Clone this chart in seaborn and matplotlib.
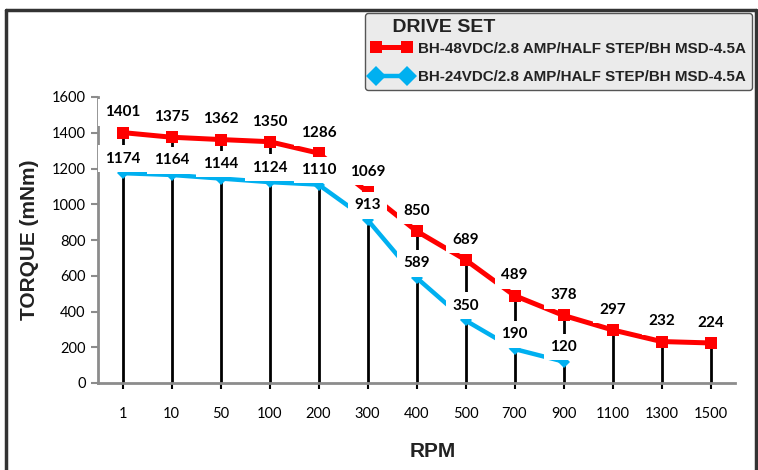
import matplotlib
matplotlib.use("Agg")
import matplotlib.pyplot as plt
from matplotlib.lines import Line2D
import numpy as np
import pandas as pd
import seaborn as sns

# ──────────────────────────────────────────────
# Data
# ──────────────────────────────────────────────
rpm_labels = ["1", "10", "50", "100", "200", "300", "400", "500",
              "700", "900", "1100", "1300", "1500"]
torque_48v = [1401, 1375, 1362, 1350, 1286, 1069, 850, 689, 489, 378, 297, 232, 224]
torque_24v = [1174, 1164, 1144, 1124, 1110, 913, 589, 350, 190, 120]

name_48v = "BH-48VDC/2.8 AMP/HALF STEP/BH MSD-4.5A"
name_24v = "BH-24VDC/2.8 AMP/HALF STEP/BH MSD-4.5A"
y_ticks = [0, 200, 400, 600, 800, 1000, 1200, 1400, 1600]

RED = "#ff0000"
BLUE = "#00b0f0"
GRAY = "#8c8c8c"

df48 = pd.DataFrame({"pos": np.arange(len(torque_48v)), "torque": torque_48v})
df24 = pd.DataFrame({"pos": np.arange(len(torque_24v)), "torque": torque_24v})

sns.set_theme(style="white")
plt.rcParams["font.family"] = ["Lato", "DejaVu Sans"]
plt.rcParams["text.color"] = "black"

fig = plt.figure(figsize=(7.58, 4.70), dpi=100)
ax = fig.add_axes([98 / 758, 1 - 383 / 470, (735 - 98) / 758, (383 - 97) / 470])

# drop lines from the axis up to the 48 V curve
ax.vlines(df48["pos"], 0, df48["torque"], color="black", lw=2, zorder=1)

sns.lineplot(data=df48, x="pos", y="torque", color=RED, lw=3.6, marker="s",
             markersize=9, markeredgewidth=0, ax=ax, zorder=3)
sns.lineplot(data=df24, x="pos", y="torque", color=BLUE, lw=3.2, marker="D",
             markersize=6, markeredgewidth=0, ax=ax, zorder=2)

label_style = dict(ha="center", va="center", fontsize=11, fontweight="bold",
                   color="black", textcoords="offset points", zorder=6,
                   bbox=dict(boxstyle="square,pad=0.42", fc="white", ec="none"))
for x, v in zip(df48["pos"], df48["torque"]):
    ax.annotate(str(v), (x, v), xytext=(0, 14.5), **label_style)
for x, v in zip(df24["pos"], df24["torque"]):
    ax.annotate(str(v), (x, v), xytext=(0, 10.5), **label_style)

ax.set_xlim(-0.5, len(rpm_labels) - 0.5)
ax.set_ylim(0, 1600)
ax.set_xticks(np.arange(len(rpm_labels)))
ax.set_xticklabels(rpm_labels)
ax.set_yticks(y_ticks)
ax.tick_params(axis="y", length=5, width=1.5, color=GRAY, labelsize=10.5,
               labelcolor="black", pad=4, left=True)
ax.tick_params(axis="x", length=4, width=1.5, color="black", labelsize=10.5,
               labelcolor="black", pad=13, bottom=True)

for side in ["top", "right"]:
    ax.spines[side].set_visible(False)
for side in ["left", "bottom"]:
    ax.spines[side].set_color(GRAY)
    ax.spines[side].set_linewidth(2)

ax.set_xlabel("RPM", fontsize=15, fontweight="bold", color="#222222",
              family=["Liberation Sans Narrow", "Liberation Sans"])
ax.set_ylabel("TORQUE (mNm)", fontsize=15, fontweight="bold", color="#222222",
              family=["Liberation Sans", "DejaVu Sans"])
ax.xaxis.set_label_coords((433 - 98) / (735 - 98), -(442 - 383) / (383 - 97))
ax.yaxis.set_label_coords(-(98 - 39) / (735 - 98), 0.5)

# legend
handles = [
    Line2D([], [], color=RED, lw=3.6, marker="s", markersize=9, markeredgewidth=0),
    Line2D([], [], color=BLUE, lw=3.2, marker="D", markersize=10.5, markeredgewidth=0),
]
leg = ax.legend(handles, [name_48v, name_24v], title="    DRIVE SET",
                loc="upper right", bbox_to_anchor=(752 / 758, 1 - 13 / 470),
                bbox_transform=fig.transFigure, borderaxespad=0,
                numpoints=2, handlelength=2.7,
                handletextpad=0.4, borderpad=0.4, labelspacing=0.95,
                alignment="left", fancybox=True, framealpha=1,
                facecolor="#ebebeb", edgecolor="#555555",
                prop={"family": ["Liberation Sans", "DejaVu Sans"],
                      "weight": "bold", "size": 10.9},
                title_fontproperties={"family": ["Liberation Sans", "DejaVu Sans"],
                                      "weight": "bold", "size": 14})
leg.get_frame().set_linewidth(1)
leg.get_title().set_color("#222222")
for t in leg.get_texts():
    t.set_color("#222222")
leg._legend_box.sep = 4

# outer frame
frame_kw = dict(color="#333333", lw=2.5, transform=fig.transFigure)
fig.add_artist(Line2D([6 / 758, 6 / 758], [0, 1 - 10 / 470], **frame_kw))
fig.add_artist(Line2D([756 / 758, 756 / 758], [0, 1 - 10 / 470], **frame_kw))
fig.add_artist(Line2D([6 / 758, 756 / 758], [1 - 10 / 470, 1 - 10 / 470], **frame_kw))

fig.savefig("out.png", dpi=100)
